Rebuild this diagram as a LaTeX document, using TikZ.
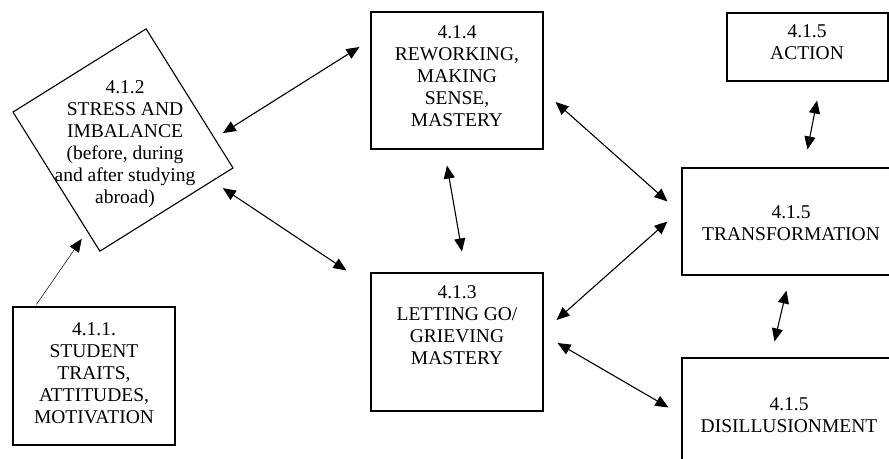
\documentclass[tikz,border=0pt]{standalone}
\usepackage{fontspec}
\setmainfont{Liberation Serif}
\usetikzlibrary{arrows.meta}

\begin{document}
\begin{tikzpicture}[x=1pt,y=1pt]

      \useasboundingbox (0,0) rectangle (889,-458);

      % frames
      \begin{scope}[every node/.style={draw, line width=1.1pt, inner sep=0pt}]
        \node[minimum width=157, minimum height=164, rotate=32] (stress) at (123,-140) {};
        \node[minimum width=172, minimum height=137] (rework)  at (457,-80.5) {};
        \node[minimum width=172, minimum height=138] (letgo)   at (457,-342) {};
        \node[minimum width=161, minimum height=68]  (action)  at (807.5,-47) {};
        \node[minimum width=219, minimum height=107] (transf)  at (791.5,-221.5) {};
        \node[minimum width=219, minimum height=118] (disill)  at (791.5,-417) {};
        \node[minimum width=162, minimum height=138] (student) at (94,-376) {};
      \end{scope}

      % texts
      \begin{scope}[every node/.style={anchor=north, inner sep=0pt, align=center,
          font=\fontsize{19.5}{22}\selectfont}]
        \node (stresstxt)  at (125,-80)  {4.1.2\\STRESS AND\\IMBALANCE\\(before, during\\and after studying\\abroad)};
        \node (reworktxt)  at (457,-25)  {4.1.4\\REWORKING,\\MAKING\\SENSE,\\MASTERY};
        \node (letgotxt)   at (457,-285) {4.1.3\\LETTING GO/\\GRIEVING\\MASTERY};
        \node (actiontxt)  at (807,-24)  {4.1.5\\ACTION};
        \node (transftxt)  at (791,-205) {4.1.5\\TRANSFORMATION};
        \node (disilltxt)  at (789,-397) {4.1.5\\DISILLUSIONMENT};
        \node (studenttxt) at (94,-322)  {4.1.1.\\STUDENT\\TRAITS,\\ATTITUDES,\\MOTIVATION};
      \end{scope}

      % connectors
      \begin{scope}[line width=1.1pt, {Triangle[length=13pt,width=11pt]}-{Triangle[length=13pt,width=11pt]}]
        \draw ([shift={(-11,35)}]stress.south east) -- ([shift={(-11,33.5)}]rework.west);
        \draw ([shift={(-11,-20)}]stress.south east) -- ([shift={(-24,2)}]letgo.north west);
        \draw ([shift={(-10,-16)}]rework.south) -- ([shift={(5,21)}]letgo.north);
        \draw ([shift={(12,-21.5)}]rework.east) -- ([shift={(-14,-34)}]transf.north west);
        \draw ([shift={(13,22)}]letgo.east) -- ([shift={(-14,-54)}]transf.north west);
        \draw ([shift={(14,-1)}]letgo.east) -- ([shift={(-13,-50)}]disill.north west);
        \draw ([shift={(9.5,-19)}]action.south) -- ([shift={(126,18)}]transf.north west);
        \draw ([shift={(105,-15)}]transf.south west) -- ([shift={(93,16)}]disill.north west);
      \end{scope}
      \draw[line width=0.5pt, -{Triangle[length=13pt,width=11pt]}]
        ([shift={(24,2)}]student.north west) -- ([shift={(-18,13)}]stress.south west);

    \end{tikzpicture}
\end{document}
